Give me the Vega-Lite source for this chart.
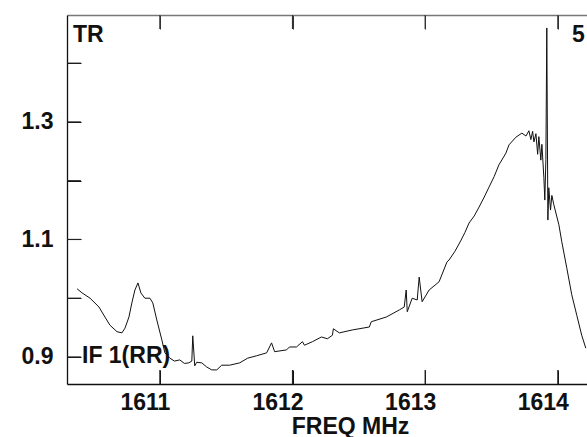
{
  "$schema": "https://vega.github.io/schema/vega-lite/v6.json",
  "width": 520,
  "height": 369,
  "autosize": {"type": "none"},
  "padding": {"left": 67, "top": 15, "right": 0, "bottom": 53},
  "background": "white",
  "config": {
    "view": {"stroke": null},
    "font": "Liberation Sans",
    "axis": {"grid": false, "labelFont": "Liberation Sans", "labelFontWeight": "bold", "labelFontSize": 23, "labelColor": "#111", "titleFont": "Liberation Sans", "titleFontWeight": "bold", "titleFontSize": 23, "titleColor": "#111", "domainColor": "#111", "tickColor": "#111", "domainWidth": 1.3, "tickWidth": 1}
  },
  "datasets": {
    "spectrum": [
      {"f": 1610.376, "v": 1.016}, {"f": 1610.414, "v": 1.009}, {"f": 1610.474, "v": 1.000}, {"f": 1610.541, "v": 0.985},
      {"f": 1610.586, "v": 0.968}, {"f": 1610.624, "v": 0.954}, {"f": 1610.677, "v": 0.943}, {"f": 1610.714, "v": 0.941},
      {"f": 1610.737, "v": 0.949}, {"f": 1610.767, "v": 0.968}, {"f": 1610.789, "v": 0.992}, {"f": 1610.812, "v": 1.014},
      {"f": 1610.835, "v": 1.026}, {"f": 1610.857, "v": 1.009}, {"f": 1610.887, "v": 1.000}, {"f": 1610.925, "v": 1.000},
      {"f": 1610.947, "v": 0.992}, {"f": 1610.977, "v": 0.963}, {"f": 1611.015, "v": 0.929}, {"f": 1611.038, "v": 0.907},
      {"f": 1611.075, "v": 0.898}, {"f": 1611.110, "v": 0.893}, {"f": 1611.150, "v": 0.895}, {"f": 1611.185, "v": 0.889},
      {"f": 1611.218, "v": 0.890}, {"f": 1611.241, "v": 0.893},
      {"f": 1611.248, "v": 0.936}, {"f": 1611.263, "v": 0.885}, {"f": 1611.278, "v": 0.891}, {"f": 1611.316, "v": 0.890},
      {"f": 1611.353, "v": 0.883}, {"f": 1611.391, "v": 0.878}, {"f": 1611.429, "v": 0.878}, {"f": 1611.466, "v": 0.886},
      {"f": 1611.526, "v": 0.886}, {"f": 1611.602, "v": 0.890}, {"f": 1611.662, "v": 0.898}, {"f": 1611.729, "v": 0.902},
      {"f": 1611.805, "v": 0.907}, {"f": 1611.842, "v": 0.924}, {"f": 1611.865, "v": 0.909}, {"f": 1611.955, "v": 0.912},
      {"f": 1611.977, "v": 0.917}, {"f": 1612.030, "v": 0.917}, {"f": 1612.075, "v": 0.926}, {"f": 1612.090, "v": 0.920},
      {"f": 1612.150, "v": 0.926}, {"f": 1612.218, "v": 0.934}, {"f": 1612.263, "v": 0.931}, {"f": 1612.301, "v": 0.937},
      {"f": 1612.308, "v": 0.948}, {"f": 1612.353, "v": 0.941}, {"f": 1612.451, "v": 0.946}, {"f": 1612.579, "v": 0.951},
      {"f": 1612.594, "v": 0.960}, {"f": 1612.707, "v": 0.968}, {"f": 1612.805, "v": 0.980}, {"f": 1612.842, "v": 0.985},
      {"f": 1612.857, "v": 1.014}, {"f": 1612.865, "v": 0.977}, {"f": 1612.902, "v": 1.000}, {"f": 1612.940, "v": 0.997},
      {"f": 1612.955, "v": 1.036}, {"f": 1612.977, "v": 0.994}, {"f": 1613.030, "v": 1.014}, {"f": 1613.105, "v": 1.028},
      {"f": 1613.165, "v": 1.062}, {"f": 1613.180, "v": 1.065}, {"f": 1613.225, "v": 1.080}, {"f": 1613.271, "v": 1.099},
      {"f": 1613.300, "v": 1.112}, {"f": 1613.331, "v": 1.128},
      {"f": 1613.370, "v": 1.140}, {"f": 1613.406, "v": 1.155}, {"f": 1613.445, "v": 1.172}, {"f": 1613.481, "v": 1.189},
      {"f": 1613.520, "v": 1.207}, {"f": 1613.556, "v": 1.227}, {"f": 1613.609, "v": 1.247},
      {"f": 1613.632, "v": 1.261}, {"f": 1613.684, "v": 1.274}, {"f": 1613.729, "v": 1.281}, {"f": 1613.760, "v": 1.276},
      {"f": 1613.782, "v": 1.285}, {"f": 1613.797, "v": 1.270}, {"f": 1613.810, "v": 1.284}, {"f": 1613.820, "v": 1.266},
      {"f": 1613.835, "v": 1.280}, {"f": 1613.848, "v": 1.245}, {"f": 1613.857, "v": 1.275}, {"f": 1613.872, "v": 1.235},
      {"f": 1613.880, "v": 1.262}, {"f": 1613.895, "v": 1.205}, {"f": 1613.902, "v": 1.167}, {"f": 1613.910, "v": 1.236},
      {"f": 1613.917, "v": 1.460}, {"f": 1613.925, "v": 1.133}, {"f": 1613.932, "v": 1.188}, {"f": 1613.945, "v": 1.150},
      {"f": 1613.955, "v": 1.175}, {"f": 1613.970, "v": 1.159}, {"f": 1614.008, "v": 1.125}, {"f": 1614.030, "v": 1.096},
      {"f": 1614.068, "v": 1.051}, {"f": 1614.105, "v": 1.006}, {"f": 1614.143, "v": 0.971}, {"f": 1614.180, "v": 0.937},
      {"f": 1614.211, "v": 0.915}
    ],
    "notes": [
      {"f": 1610.345, "v": 1.436, "t": "TR"},
      {"f": 1614.107, "v": 1.436, "t": "5"},
      {"f": 1610.413, "v": 0.890, "t": "IF 1(RR)"}
    ],
    "yticks": [{"v": 0.9}, {"v": 1.0}, {"v": 1.1}, {"v": 1.2}, {"v": 1.3}, {"v": 1.4}],
    "xticks": [{"f": 1611}, {"f": 1612}, {"f": 1613}, {"f": 1614}]
  },
  "layer": [
    {
      "data": {"name": "spectrum"},
      "mark": {"type": "line", "color": "#111", "strokeWidth": 1, "clip": true},
      "encoding": {
        "x": {
          "field": "f", "type": "quantitative",
          "scale": {"domain": [1610.30, 1614.22], "nice": false, "zero": false},
          "axis": {
            "orient": "bottom", "values": [1611, 1612, 1613, 1614], "format": "d",
            "tickSize": -14, "labelPadding": 21, "labelOffset": -15, "labelFlush": false,
            "title": "FREQ MHz", "titleX": 283, "titleY": 49, "titleAlign": "center", "titleBaseline": "alphabetic"
          }
        },
        "y": {
          "field": "v", "type": "quantitative",
          "scale": {"domain": [0.854, 1.482], "nice": false, "zero": false},
          "axis": {
            "orient": "left", "values": [0.9, 1.0, 1.1, 1.2, 1.3, 1.4], "format": ".1f",
            "labelExpr": "indexof(['0.9','1.1','1.3'], datum.label) >= 0 ? datum.label : ''",
            "tickSize": -14, "labelPadding": 28, "title": null, "labelFlush": false
          }
        }
      }
    },
    {
      "data": {"name": "spectrum"},
      "mark": {"type": "line", "opacity": 0},
      "encoding": {
        "x": {
          "field": "f", "type": "quantitative",
          "axis": {"orient": "top", "values": [1611, 1612, 1613, 1614], "labels": false, "ticks": true, "tickSize": -14, "tickColor": "#333", "title": null, "domainColor": "#777"}
        },
        "y": {"field": "v", "type": "quantitative"}
      }
    },
    {
      "data": {"name": "yticks"},
      "mark": {"type": "rule", "color": "#222", "strokeWidth": 1.2},
      "encoding": {
        "y": {"field": "v", "type": "quantitative"},
        "x": {"datum": 1610.30, "type": "quantitative", "axis": null},
        "x2": {"datum": 1610.405}
      }
    },
    {
      "data": {"name": "xticks"},
      "mark": {"type": "rule", "color": "#222", "strokeWidth": 1.2},
      "encoding": {
        "x": {"field": "f", "type": "quantitative", "axis": null},
        "y": {"datum": 0.854, "type": "quantitative"},
        "y2": {"datum": 0.8778}
      }
    },
    {
      "data": {"name": "xticks"},
      "mark": {"type": "rule", "color": "#333", "strokeWidth": 1.2},
      "encoding": {
        "x": {"field": "f", "type": "quantitative", "axis": null},
        "y": {"datum": 1.4582, "type": "quantitative"},
        "y2": {"datum": 1.482}
      }
    },
    {
      "data": {"name": "notes"},
      "mark": {"type": "text", "align": "left", "baseline": "alphabetic", "font": "Liberation Sans", "fontWeight": "bold", "fontSize": 23, "color": "#111"},
      "encoding": {
        "x": {"field": "f", "type": "quantitative", "axis": null},
        "y": {"field": "v", "type": "quantitative"},
        "text": {"field": "t"}
      }
    }
  ],
  "resolve": {"axis": {"x": "independent"}}
}
